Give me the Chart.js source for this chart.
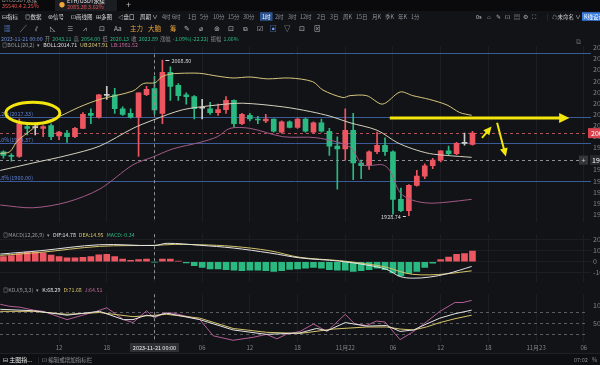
<!DOCTYPE html>
<html>
<head>
<meta charset="utf-8">
<script src="https://cdn.jsdelivr.net/npm/chart.js@4.4.0/dist/chart.umd.min.js"></script>
<style>
  html, body { margin: 0; padding: 0; background: #121317; width: 600px; height: 365px; overflow: hidden; }
  canvas { position: absolute; left: 0; }
  #tabs { position: absolute; left: 0; top: 0; width: 600px; height: 11px; background: #0a0a0c; }
  #tab2 { position: absolute; left: 55px; top: 0; width: 62px; height: 11px; background: #1c1d22; }
  #bottom { position: absolute; left: 0; top: 353px; width: 600px; height: 12px; background: #0e0f12; border-top: 1px solid #1f2127; }
  #textLayer { top: 0; pointer-events: none; }
</style>
</head>
<body>
<div id="tabs"><div id="tab2"></div></div>
<div id="bottom"></div>
<canvas id="mainChart" width="600" height="188" style="top:40px"></canvas>
<canvas id="macdChart" width="600" height="60" style="top:228px"></canvas>
<canvas id="kdjChart" width="600" height="64" style="top:288px"></canvas>
<canvas id="textLayer" width="600" height="365"></canvas>
<script>
/* ── data (1h candles, hour 0 = 2023-11-21 00:00) ───────────────── */
const FIRST_HOUR = -19;
const OPEN  = [1986.2,1982.9,1982.0,2008.9,2008.3,2007.3,2009.8,2000.5,2003.0,1999.7,2007.3,2020.7,2017.3,2037.5,2037.5,2024.9,2020.7,2017.3,2037.5,
               2043.11,2020.7,2057.7,2045.9,2037.5,2035.8,2025.7,2024.9,2021.5,2024.1,2032.5,2011.4,2019.0,2015.7,2014.0,2015.7,2003.9,2013.1,2008.1,2015.7,
               2003.9,2012.3,2004.7,1991.3,1988.8,2005.6,1976.1,1973.6,1986.2,1992.1,1986.2,1943.4,1933.3,1956.0,1964.3,1973.6,1978.7,1987.1,1984.6,1993.8,1992.9];
const HIGH  = [1987.1,1984.6,2015.7,2011.4,2011.4,2009.8,2011.4,2004.7,2005.6,2008.1,2021.5,2024.9,2037.9,2045.1,2043.3,2026.6,2024.9,2039.2,2045.1,
               2054.00,2068.8,2062.7,2047.6,2039.2,2036.7,2033.3,2030.8,2029.1,2035.8,2032.9,2020.7,2020.7,2018.2,2019.9,2015.9,2014.0,2014.0,2016.5,2016.5,
               2013.1,2015.7,2007.3,1999.7,2024.9,2020.7,1978.7,1987.1,2003.9,1998.8,1987.1,1953.5,1956.8,1969.4,1975.3,1980.4,1987.1,1991.3,1994.6,2003.0,2004.7];
const LOW   = [1980.4,1977.8,1981.2,2001.4,2001.4,1999.7,1997.0,1997.2,1994.6,1998.8,2007.0,2011.4,2016.5,2033.3,2020.7,2019.0,2016.5,1982.0,2036.7,
               2020.13,2011.4,2032.5,2032.5,2029.1,2015.7,2015.7,2019.9,2019.0,2020.7,2008.1,2010.6,2014.0,2011.4,2012.3,2003.9,2003.0,2007.6,2007.3,2003.9,
               2003.0,2003.9,1982.9,1952.6,1978.7,1961.0,1961.9,1970.3,1984.6,1982.9,1930.0,1932.4,1928.74,1955.2,1961.9,1971.1,1977.0,1983.7,1983.7,1992.1,1992.1];
const CLOSE = [1982.9,1982.0,2011.4,2007.3,2008.0,2008.9,1999.7,2003.9,1999.7,2007.3,2019.9,2019.0,2037.5,2037.0,2024.9,2019.9,2017.3,2039.2,2042.5,
               2023.89,2057.7,2045.1,2036.7,2035.8,2024.9,2025.4,2021.5,2024.1,2032.5,2011.4,2019.9,2015.7,2014.8,2015.7,2004.7,2013.1,2008.1,2015.7,2004.7,
               2012.3,2004.7,1991.3,1988.8,2005.6,1976.1,1973.6,1986.2,1992.1,1986.2,1943.4,1933.3,1956.0,1964.3,1973.6,1978.7,1987.1,1984.6,1993.8,1994.3,2003.0];

const BOLL_UP  = [[-19.4,1984.6],[-18.2,1986.2],[-17.3,1995.5],[-16,2003.0],[-14.4,2011.4],[-11.9,2018.2],[-9.4,2026.6],[-6.9,2033.3],[-2.7,2040.9],[-1.4,2047.6],
                  [0.1,2048.4],[0.9,2053.5],[1.9,2056.0],[3.2,2056.8],[5.7,2056.8],[7.9,2054.3],[9.9,2052.6],[12,2053.5],[14.2,2051.8],[17,2052.6],[19.9,2049.3],
                  [21.2,2041.7],[23.7,2035.0],[24.6,2036.7],[26.7,2036.7],[28.7,2029.1],[30.9,2040.0],[32.5,2036.7],[34.6,2033.3],[36.8,2028.3],[38.4,2021.5],[39.9,2019.0]];
const BOLL_MID = [[-19.4,1969.4],[-15.3,1976.1],[-11,1982.9],[-6.9,1991.3],[-2.7,2007.3],[-0.2,2014.7],[3.6,2024.1],[7.9,2028.3],[11.1,2029.9],[16.2,2026.6],
                  [19.6,2022.4],[22.1,2018.2],[24.6,2012.3],[28,2005.6],[30.5,1994.6],[32.5,1988.8],[34.6,1984.6],[36.8,1982.9],[39.9,1981.2]];
const BOLL_LOW = [[-19.4,1938.3],[-15.3,1935.8],[-11,1940.9],[-6.9,1952.6],[-2.7,1974.5],[-0.2,1981.5],[2.3,1988.8],[5.7,1994.6],[7.9,1999.7],[9.5,2007.3],
                  [12,2007.3],[16.2,1999.7],[20.4,1998.8],[24.6,1990.4],[26.2,1974.5],[28.7,1974.5],[29.6,1969.4],[30.9,1949.3],[32.5,1942.5],[34.6,1940.0],
                  [36.8,1940.9],[39.9,1943.4]];

const MACD_HIST = [4.8,5.6,7.5,8.7,8.7,8.0,6.0,4.8,3.6,3.6,3.9,4.8,6.3,6.8,4.8,2.4,1.2,1.9,2.4,
                   -0.34,2.4,2.4,0.7,-1.0,-3.6,-5.3,-6.5,-6.5,-7.2,-7.7,-8.2,-7.7,-7.7,-8.2,-8.9,-8.2,-7.0,-6.5,-5.8,
                   -5.3,-5.8,-7.2,-7.7,-7.7,-8.9,-8.2,-7.2,-5.8,-7.2,-10.1,-13.0,-10.6,-8.9,-5.3,-1.2,1.9,4.3,6.8,7.5,9.7];
const DIF = [[-19.4,7.0],[-14.4,10.0],[-6.9,15.5],[0,14.78],[1.6,16.8],[5.7,15.0],[9.9,12.5],[14.5,8.0],[18.3,3.5],[23.3,0.5],[26.7,-3.0],
             [29.2,-7.0],[30.9,-13.5],[32.5,-15.0],[34.6,-14.0],[36.8,-11.0],[39.9,-4.3]];
const DEA = [[-19.4,5.8],[-14.4,8.5],[-6.9,14.0],[0,14.95],[2.5,15.8],[5.7,15.5],[9.9,14.0],[14.5,10.0],[18.3,4.0],[23.3,1.0],[26.7,-2.0],
             [29.2,-5.0],[30.9,-9.0],[32.5,-11.5],[34.6,-12.0],[36.8,-11.0],[39.9,-8.3]];

const K_LINE = [[-19.4,88],[-15.2,84],[-11,72],[-6.9,82.4],[-3.9,60],[-2.7,60],[-1,72],[0,68.3],[1.5,77.6],[5.7,60],[9.9,32],[14.1,20],[18.3,24],
                [20.4,36],[21.7,29.6],[24,52],[26.7,42.4],[29.2,44],[30.9,28],[32.6,32],[34.2,48],[35.9,64],[37.8,76],[39.9,85.6]];
const D_LINE = [[-19.4,82.4],[-15.2,82.4],[-11,74.4],[-6.9,79.2],[-2.7,68],[0,71.7],[1.5,74.4],[5.7,64],[9.9,36],[14.1,25.6],[18.3,22.5],
                [22.5,34.4],[26.7,40],[29.2,40],[30.9,34.4],[32.6,32],[34.2,40],[35.9,52],[37.8,62.4],[39.9,72]];
const J_LINE = [[-19.4,101.6],[-18.2,96],[-16.9,93.6],[-15.2,85.6],[-14,82.4],[-11,60],[-7.3,82.4],[-6,92],[-3.9,60],[-2.7,52],[-1,84],[0,64.5],
                [1.1,77.6],[2.4,77.6],[5.7,60],[7.4,16],[9.9,4],[12.4,12],[14.1,20],[15.4,8],[16.6,20],[18.3,28],[20,48],[21.7,28],[24,74.4],
                [25.2,48],[26.7,44],[27.9,56],[29,53.6],[30.9,5.6],[32.6,28],[34.2,53.6],[35.9,82.4],[37.8,106.4],[38.8,106.4],[39.9,112]];

const FIB_LEVELS = [2075.3, 2017.33, 1994.37, 1960.00];
const FIB_LABELS = ['', '38.2%(2017.33)', '50.0%(1994.37)', '61.8%(1960.00)'];
const PRICE_TICKS = [2080,2070,2060,2050,2040,2030,2020,2010,2000,1990,1980,1970,1960,1950,1940,1930];
const MACD_TICKS = [20, 10, 0, -10];
const KDJ_TICKS = [100, 50];
const KDJ_LEVELS = [80, 50, 20];
const TIME_TICKS = [-12,-6,0,6,12,18,24,30,36,42,48,54];
const TIME_LABELS = ['12','18','11月21','06','12','18','11月22','06','12','18','11月23','06'];
const CROSS_HOUR = 0, CROSS_PRICE = 1978.7, CROSS_TEXT = '2023-11-21 00:00';
const HIGH_MARK = [1, 2068.80], LOW_MARK = [32, 1928.74];
// hand-drawn notes, in [hour, price]
const NOTE_ELLIPSE = [-15.3, 2021.1, 3.4, 9.7];
const NOTE_ARROWS = [[[29.6, 2016.5], [52.2, 2016.5], 3], [[41.2, 1998.8], [42.4, 2008.9], 2], [[43.1, 2012.3], [44.2, 1982.0], 2]];

/* ── look ─────────────────────────────────────────────────────── */
const UP = '#ec5660', DOWN = '#2bb982', DOJI = '#c9cbc6';
const X_MIN = -19.43, X_MAX = 54.91;
const AXIS_TXT = '#80838a', GRID = '#1c1e24';
const FONT = '"Noto Sans CJK SC", "Noto Sans", sans-serif';

const hours = OPEN.map((_, i) => FIRST_HOUR + i);
const candleColors = OPEN.map((o, i) => Math.abs(CLOSE[i] - o) < 0.6 ? DOJI : (CLOSE[i] > o ? UP : DOWN));
const pts = arr => arr.map(([x, y]) => ({ x, y }));

function xScale(showLabels) {
  return {
    type: 'linear', min: X_MIN, max: X_MAX, offset: false,
    afterBuildTicks: s => { s.ticks = TIME_TICKS.map(v => ({ value: v })); },
    afterFit: s => { s.height = showLabels ? 10 : 0; },
    grid: { color: GRID, drawTicks: false, offset: false },
    border: { display: false },
    ticks: {
      display: showLabels, color: AXIS_TXT, font: { size: 6, family: FONT }, padding: 2,
      maxRotation: 0, autoSkip: false,
      callback: v => TIME_LABELS[TIME_TICKS.indexOf(v)]
    }
  };
}
function yScale(min, max, ticks, showGrid) {
  return {
    position: 'right', min, max,
    afterBuildTicks: s => { s.ticks = ticks.map(v => ({ value: v })); },
    afterFit: s => { s.width = 9; },
    grid: { display: showGrid, color: GRID, drawTicks: false },
    border: { display: false },
    ticks: { color: AXIS_TXT, font: { size: 7, family: FONT }, padding: 2, callback: v => String(v) }
  };
}
function lineSet(data, color, tension) {
  return { type: 'line', data: pts(data), borderColor: color, borderWidth: 1, pointRadius: 0, tension, order: 0 };
}
function crossLine(chart, top) {
  const { ctx, chartArea: a, scales: { x } } = chart;
  const px = Math.round(x.getPixelForValue(CROSS_HOUR)) + 0.5;
  ctx.save();
  ctx.strokeStyle = '#8d8f94'; ctx.lineWidth = 1; ctx.setLineDash([3, 3]);
  ctx.beginPath(); ctx.moveTo(px, top); ctx.lineTo(px, a.bottom); ctx.stroke();
  ctx.restore();
}
function arrow(ctx, x1, y1, x2, y2, w) {
  const ang = Math.atan2(y2 - y1, x2 - x1), head = 4 + w * 2.5;
  ctx.lineWidth = w;
  ctx.beginPath(); ctx.moveTo(x1, y1);
  ctx.lineTo(x2 - Math.cos(ang) * head * 0.8, y2 - Math.sin(ang) * head * 0.8); ctx.stroke();
  ctx.beginPath(); ctx.moveTo(x2, y2);
  ctx.lineTo(x2 - Math.cos(ang - 0.45) * head, y2 - Math.sin(ang - 0.45) * head);
  ctx.lineTo(x2 - Math.cos(ang + 0.45) * head, y2 - Math.sin(ang + 0.45) * head);
  ctx.closePath(); ctx.fill();
}

const mainDecor = {
  id: 'mainDecor',
  beforeDatasetsDraw(chart) {
    const { ctx, chartArea: a, scales: { y } } = chart;
    ctx.save();
    ctx.font = '5.5px ' + FONT; ctx.textAlign = 'right';
    FIB_LEVELS.forEach((v, i) => {
      const py = Math.round(y.getPixelForValue(v)) + 0.5;
      ctx.strokeStyle = '#3b5b98'; ctx.lineWidth = 1;
      ctx.beginPath(); ctx.moveTo(a.left, py); ctx.lineTo(a.right, py); ctx.stroke();
      if (FIB_LABELS[i]) { ctx.fillStyle = '#5d82d6'; ctx.fillText(FIB_LABELS[i], 33, py - 2); }
    });
    ctx.setLineDash([3, 3]);
    const last = CLOSE[CLOSE.length - 1];
    let py = Math.round(y.getPixelForValue(last)) + 0.5;
    ctx.strokeStyle = '#b8505a';
    ctx.beginPath(); ctx.moveTo(a.left, py); ctx.lineTo(a.right, py); ctx.stroke();
    py = Math.round(y.getPixelForValue(CROSS_PRICE)) + 0.5;
    ctx.strokeStyle = '#8d8f94';
    ctx.beginPath(); ctx.moveTo(a.left, py); ctx.lineTo(a.right - 11, py); ctx.stroke();
    ctx.restore();
  },
  afterDatasetsDraw(chart) {
    const { ctx, chartArea: a, scales: { x, y } } = chart;
    crossLine(chart, a.top + 8);
    ctx.save();
    // high / low marks
    ctx.font = '5.5px ' + FONT; ctx.fillStyle = '#d6d6d6'; ctx.strokeStyle = '#d6d6d6'; ctx.lineWidth = 1;
    const hx = x.getPixelForValue(HIGH_MARK[0]), hy = Math.round(y.getPixelForValue(HIGH_MARK[1])) + 0.5;
    ctx.textAlign = 'left'; ctx.textBaseline = 'middle';
    ctx.beginPath(); ctx.moveTo(hx + 3, hy); ctx.lineTo(hx + 7, hy); ctx.stroke();
    ctx.fillText(HIGH_MARK[1].toFixed(2), hx + 9, hy);
    const lx = x.getPixelForValue(LOW_MARK[0]), ly = Math.round(y.getPixelForValue(LOW_MARK[1])) + 0.5;
    ctx.beginPath(); ctx.moveTo(lx - 3, ly); ctx.lineTo(lx - 6, ly); ctx.stroke();
    ctx.textAlign = 'right'; ctx.fillText(LOW_MARK[1].toFixed(2), lx - 8, ly);
    // yellow hand notes
    ctx.strokeStyle = '#f3e60c'; ctx.fillStyle = '#f3e60c';
    const [ex, ey, erx, ery] = NOTE_ELLIPSE;
    const cx = x.getPixelForValue(ex), cy = y.getPixelForValue(ey);
    const rx = x.getPixelForValue(ex + erx) - cx, ry = cy - y.getPixelForValue(ey + ery);
    ctx.lineWidth = 3;
    ctx.beginPath(); ctx.ellipse(cx, cy, rx, ry, 0, 0, Math.PI * 2); ctx.stroke();
    NOTE_ARROWS.forEach(([p1, p2, w]) => {
      arrow(ctx, x.getPixelForValue(p1[0]), y.getPixelForValue(p1[1]), x.getPixelForValue(p2[0]), y.getPixelForValue(p2[1]), w);
    });
    ctx.restore();
  },
  afterDraw(chart) {
    const { ctx, chartArea: a, scales: { y } } = chart;
    ctx.save();
    ctx.font = '7px ' + FONT; ctx.textBaseline = 'middle'; ctx.textAlign = 'left';
    const last = CLOSE[CLOSE.length - 1];
    let py = y.getPixelForValue(last);
    ctx.fillStyle = '#d8434e'; ctx.fillRect(a.right - 3, py - 5, 20, 10);
    ctx.fillStyle = '#fff'; ctx.fillText(last.toFixed(2), a.right, py);
    py = y.getPixelForValue(CROSS_PRICE);
    ctx.fillStyle = '#34363c'; ctx.fillRect(a.right - 12, py - 4.5, 9, 9);
    ctx.fillStyle = '#d0d0d0'; ctx.textAlign = 'center'; ctx.fillText('+', a.right - 7.5, py);
    ctx.fillStyle = '#26282d'; ctx.fillRect(a.right - 1, py - 5, 20, 10);
    ctx.fillStyle = '#fff'; ctx.textAlign = 'left'; ctx.fillText(CROSS_PRICE.toFixed(2), a.right + 1, py);
    ctx.restore();
  }
};

new Chart(document.getElementById('mainChart'), {
  type: 'bar',
  data: {
    datasets: [
      lineSet(BOLL_UP, '#d7c67f', 0.3),
      lineSet(BOLL_MID, '#d4d0bd', 0.3),
      lineSet(BOLL_LOW, '#a15a85', 0.3),
      { data: hours.map((h, i) => ({ x: h, y: [LOW[i], HIGH[i]] })), backgroundColor: candleColors, barThickness: 1, grouped: false, order: 2 },
      { data: hours.map((h, i) => ({ x: h, y: [OPEN[i], CLOSE[i]] })), backgroundColor: candleColors, barThickness: 5, minBarLength: 1, grouped: false, order: 1 }
    ]
  },
  options: {
    responsive: false, animation: false, events: [],
    layout: { padding: 0 },
    plugins: { legend: { display: false }, tooltip: { enabled: false } },
    scales: { x: xScale(false), y: yScale(1923.2, 2081.2, PRICE_TICKS, false) }
  },
  plugins: [mainDecor]
});

new Chart(document.getElementById('macdChart'), {
  type: 'bar',
  data: {
    datasets: [
      lineSet(DIF, '#e4e4e4', 0.35),
      lineSet(DEA, '#d6c46a', 0.35),
      { data: hours.map((h, i) => ({ x: h, y: MACD_HIST[i] })), backgroundColor: MACD_HIST.map(v => v >= 0 ? UP : DOWN), barThickness: 6, grouped: false, order: 1 }
    ]
  },
  options: {
    responsive: false, animation: false, events: [],
    layout: { padding: 0 },
    plugins: { legend: { display: false }, tooltip: { enabled: false } },
    scales: { x: xScale(false), y: yScale(-18.3, 25.1, MACD_TICKS, true) }
  },
  plugins: [{ id: 'macdCross', afterDatasetsDraw: c => crossLine(c, c.chartArea.top) }]
});

new Chart(document.getElementById('kdjChart'), {
  type: 'line',
  data: {
    datasets: [
      lineSet(K_LINE, '#e4e4e4', 0),
      lineSet(D_LINE, '#d6c46a', 0),
      lineSet(J_LINE, '#b35e97', 0)
    ]
  },
  options: {
    responsive: false, animation: false, events: [],
    layout: { padding: 0 },
    plugins: { legend: { display: false }, tooltip: { enabled: false } },
    scales: { x: xScale(true), y: yScale(-0.7, 128.9, KDJ_TICKS, false) }
  },
  plugins: [{
    id: 'kdjDecor',
    beforeDatasetsDraw(chart) {
      const { ctx, chartArea: a, scales: { y } } = chart;
      ctx.save();
      ctx.strokeStyle = '#5a5c62'; ctx.lineWidth = 1; ctx.setLineDash([3, 3]);
      KDJ_LEVELS.forEach(v => {
        const py = Math.round(y.getPixelForValue(v)) + 0.5;
        ctx.beginPath(); ctx.moveTo(a.left, py); ctx.lineTo(a.right - 3, py); ctx.stroke();
      });
      ctx.restore();
    },
    afterDatasetsDraw: c => crossLine(c, c.chartArea.top),
    afterDraw(chart) {
      const { ctx, chartArea: a, scales: { x } } = chart;
      const px = x.getPixelForValue(CROSS_HOUR);
      ctx.save();
      ctx.font = '5.5px ' + FONT;
      const w = ctx.measureText(CROSS_TEXT).width + 6;
      ctx.fillStyle = '#2e3036'; ctx.fillRect(px - w / 2, a.bottom + 1, w, 9);
      ctx.fillStyle = '#f0f0f0'; ctx.textAlign = 'center'; ctx.textBaseline = 'middle';
      ctx.fillText(CROSS_TEXT, px, a.bottom + 5.8);
      ctx.restore();
    }
  }]
});

/* ── toolbar, legends, status bar (text layer) ─────────────────── */
const tctx = document.getElementById('textLayer').getContext('2d');
tctx.textBaseline = 'middle';
function put(text, x, y, color, size, bg) {
  tctx.font = `${size}px ${FONT}`;
  const w = tctx.measureText(text).width;
  if (bg) { tctx.fillStyle = bg; tctx.fillRect(x - 2, y - size / 2 - 1.5, w + 4, size + 3); }
  tctx.fillStyle = color;
  tctx.fillText(text, x, y);
  return w;
}
function row(items, y, size, gap, x0) {
  let x = x0;
  items.forEach(([t, c]) => { x += put(t, x, y, c, size) + gap; });
}
// tabs
put('BTCUSDT永续', 2, 0, '#9a9a9a', 5.5);
put('35540.4 2.25%', 2, 6, '#e0524f', 5.5);
put('●', 59, 5, '#f3a43b', 6);
put('ETH/USDT永续', 67, 1, '#e8e8e8', 5.5);
put('2085.38 3.62%', 67, 7, '#e0524f', 5.5);
put('+', 126, 5, '#bbb', 9);
// period row
[['⊟指标', 2], ['◎数据', 25], ['⊛信号', 48], ['⊡画线图', 71], ['⊞多图', 96], ['◁盘口', 118], ['周期 ∨', 140]]
  .forEach(([t, x]) => put(t, x, 16.5, '#dcdcdc', 5.5));
[['4时', 162], ['6时', 172], ['1日', 188], ['5分', 200], ['10分', 213], ['15分', 228], ['30分', 243], ['1时', 262], ['2时', 275],
 ['3时', 288], ['12时', 300], ['2日', 317], ['3日', 330], ['周K', 343], ['15日', 356], ['月K', 372], ['季K', 385], ['年K', 398], ['1分', 411]]
  .forEach(([t, x]) => t === '1时' ? put(t, x, 16.5, '#fff', 5.5, '#2d5492') : put(t, x, 16.5, '#8d9099', 5.5));
put('0s', 476, 16.5, '#ccc', 5.5);
['⌂', '✎', '⊡', '▤', '⚙', '⛶'].forEach((t, i) => put(t, 487 + i * 9, 16.5, '#aaa', 6));
put('|', 547, 16.5, '#444', 6);
put('☁未命名 ∨', 552, 16.5, '#cfcfcf', 5.5);
put('K线设计', 584, 16.5, '#fff', 5.5, '#3a7fe0');
// drawing tools row
[['▦', 4, '#5b8ee0'], ['╱', 20, '#bbb'], ['⫽', 35, '#bbb'], ['◺', 50, '#bbb'], ['≡', 67, '#bbb'], ['⩘', 83, '#bbb'], ['⊡', 99, '#bbb'],
 ['Aa', 114, '#bbb'], ['主力', 130, '#e8a23a'], ['大脑', 148, '#e8a23a'], ['筹', 170, '#e8a23a'], ['✎', 184, '#bbb'], ['⌀', 199, '#bbb'],
 ['⊚', 214, '#bbb'], ['⊡', 228, '#bbb'], ['⧉', 243, '#bbb'], ['☑', 257, '#bbb'], ['▣', 270, '#6fa3ff'], ['▽', 284, '#bbb'], ['⊡', 299, '#bbb'], ['⊠', 314, '#bbb']]
  .forEach(([t, x, c]) => put(t, x, 29, c, 6.5));
// main legend rows
row([[CROSS_TEXT, '#6d8fd8'], ['开', '#8a8d93'], ['2043.11', '#2bb982'], ['高', '#8a8d93'], ['2054.00', '#2bb982'], ['低', '#8a8d93'], ['2020.13', '#2bb982'],
     ['收', '#8a8d93'], ['2023.89', '#2bb982'], ['涨幅', '#8a8d93'], ['-1.09%(-22.22)', '#2bb982'], ['振幅', '#8a8d93'], ['1.66%', '#2bb982']], 39, 5.3, 2.2, 1);
row([['◎BOLL(20,2)', '#9a9ca2'], ['▾', '#9a9ca2'], ['BOLL:2014.71', '#e2e2e2'], ['UB:2047.91', '#d7c67f'], ['LB:1981.52', '#c06a9a']], 45, 5.3, 3, 2);
put('⧉', 576, 41, '#666', 7);
// sub-pane legends
row([['◎MACD(12,26,9)', '#9a9ca2'], ['▾', '#9a9ca2'], ['DIF:14.78', '#e2e2e2'], ['DEA:14.95', '#d6c46a'], ['MACD:-0.34', '#2bb982']], 235, 5.3, 3, 3);
row([['◎KDJ(9,3,3)', '#9a9ca2'], ['▾', '#9a9ca2'], ['K:68.29', '#e2e2e2'], ['D:71.68', '#d6c46a'], ['J:64.51', '#c06a9a']], 290, 5.3, 3, 3);
// status bar
put('⊟ 主图指...', 3, 359.5, '#e6e6e6', 6);
put('|', 38, 359.5, '#444', 6);
put('⊡ 编辑或增加指标栏', 42, 359.5, '#8d9099', 5.5);
put('07:02', 574, 359.5, '#8d9099', 5.5);
put('%', 592, 359.5, '#8d9099', 5.5);
</script>
</body>
</html>
